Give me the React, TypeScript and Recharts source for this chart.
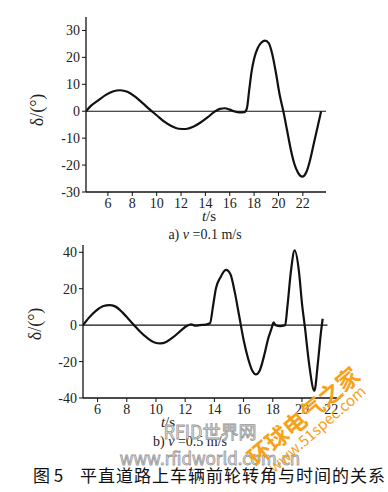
import React from 'react';
import { Line, LineChart, ReferenceLine, XAxis, YAxis } from 'recharts';

// a) v = 0.1 m/s
const timeA = [4.2, 4.6, 5.2, 5.8, 6.4, 7.0, 7.6, 8.2, 8.8, 9.4, 10.0, 10.6, 11.2, 11.8, 12.4, 13.0, 13.6, 14.2, 14.8, 15.2, 15.6, 16.0, 16.4, 16.8, 17.2, 17.4, 17.6, 17.8, 18.0, 18.3, 18.6, 18.9, 19.2, 19.5, 19.8, 20.1, 20.4, 20.7, 21.0, 21.3, 21.6, 21.95, 22.3, 22.6, 22.9, 23.2, 23.5];
const deltaA = [0, 2, 4, 6, 7.3, 7.8, 7.2, 5.5, 3.2, 0.8, -1.5, -3.8, -5.5, -6.5, -6.6, -5.8, -4.2, -2.2, 0, 0.9, 1.1, 0.6, -0.1, -0.4, -0.3, 1, 8, 15, 19.5, 23.5, 25.5, 26.2, 25.3, 21, 14, 6, 0, -7, -14, -19.5, -22.8, -24.3, -22.5, -18, -12, -6, 0];

// b) v = 0.5 m/s
const timeB = [5.0, 5.4, 5.9, 6.4, 6.8, 7.2, 7.7, 8.1, 8.5, 8.9, 9.4, 9.9, 10.3, 10.7, 11.2, 11.7, 12.1, 12.4, 12.7, 13.0, 13.4, 13.7, 13.9, 14.1, 14.4, 14.8, 15.1, 15.4, 15.7, 16.0, 16.3, 16.6, 16.85, 17.1, 17.4, 17.7, 17.95, 18.05, 18.2, 18.5, 18.85, 19.0, 19.25, 19.5, 19.8, 20.0, 20.2, 20.5, 20.85, 21.1, 21.3, 21.42];
const deltaB = [0, 4, 8, 10.5, 11, 10.3, 7, 3.5, 0, -3.5, -7, -9.5, -10, -9.2, -6.5, -3, -0.5, 0.5, -0.3, 0, 0.3, 1, 10, 20, 26, 30.3, 28, 18, 5, -8, -18, -25, -27, -25, -17, -7, -1, 1.5, 0, -0.5, 0, 10, 30, 41, 29, 12, -1, -22, -36, -20, -4, 3.5];

const xTicks = [6, 8, 10, 12, 14, 16, 18, 20, 22];
const yTicksA = [-30, -20, -10, 0, 10, 20, 30];
const yTicksB = [-40, -20, 0, 20, 40];

const seriesA = timeA.map((t, i) => ({ t, delta: deltaA[i] }));
const seriesB = timeB.map((t, i) => ({ t, delta: deltaB[i] }));

const serif = '"Liberation Serif", "DejaVu Serif", serif';
const cjk = '"Noto Sans CJK SC", "Noto Sans CJK JP", sans-serif';
const tickStyle = { fontFamily: serif, fontSize: 14, fill: '#222' };

const App: React.FC = () => {
  return (
    <div style={{ position: 'absolute', left: 0, top: 0, width: 388, height: 492, background: '#fff', overflow: 'hidden' }}>
      <div style={{ position: 'absolute', left: 0, top: 0 }}>
        <LineChart width={388} height={240} data={seriesA} margin={{ top: 17, right: 62, left: 46, bottom: 28 }}>
          <XAxis
            dataKey="t"
            type="number"
            domain={[4.2, 23.9]}
            ticks={xTicks}
            tick={tickStyle}
            tickSize={4}
            axisLine={{ stroke: '#111', strokeWidth: 1.3 }}
            tickLine={{ stroke: '#111' }}
            height={20}
            allowDataOverflow
          />
          <YAxis
            type="number"
            domain={[-30, 35]}
            ticks={yTicksA}
            tick={tickStyle}
            tickSize={4}
            axisLine={{ stroke: '#111', strokeWidth: 1.3 }}
            tickLine={{ stroke: '#111' }}
            width={40}
            allowDataOverflow
          />
          <ReferenceLine y={0} stroke="#111" strokeWidth={1.2} />
          <Line dataKey="delta" type="monotone" stroke="#111" strokeWidth={2.2} dot={false} isAnimationActive={false} />
        </LineChart>
      </div>

      <div style={{ position: 'absolute', left: 0, top: 230 }}>
        <LineChart width={388} height={200} data={seriesB} margin={{ top: 15, right: 51, left: 43, bottom: 12 }}>
          <XAxis
            dataKey="t"
            type="number"
            domain={[5, 22.4]}
            ticks={xTicks}
            tick={tickStyle}
            tickSize={4}
            axisLine={{ stroke: '#111', strokeWidth: 1.3 }}
            tickLine={{ stroke: '#111' }}
            height={20}
            allowDataOverflow
          />
          <YAxis
            type="number"
            domain={[-40, 44]}
            ticks={yTicksB}
            tick={tickStyle}
            tickSize={4}
            axisLine={{ stroke: '#111', strokeWidth: 1.3 }}
            tickLine={{ stroke: '#111' }}
            width={40}
            allowDataOverflow
          />
          <ReferenceLine segment={[{ x: 5, y: 0 }, { x: 21.75, y: 0 }]} stroke="#111" strokeWidth={1.2} />
          <Line dataKey="delta" type="monotone" stroke="#111" strokeWidth={2.2} dot={false} isAnimationActive={false} />
        </LineChart>
      </div>

      <svg width={388} height={492} style={{ position: 'absolute', left: 0, top: 0, pointerEvents: 'none' }}>
        <text x={39} y={110} transform="rotate(-90 39 110)" textAnchor="middle" dominantBaseline="middle" fontFamily={serif} fontSize={18} fill="#222">δ/(°)</text>
        <text x={37} y={324} transform="rotate(-90 37 324)" textAnchor="middle" dominantBaseline="middle" fontFamily={serif} fontSize={18} fill="#222">δ/(°)</text>

        <text x={209} y={218} textAnchor="middle" dominantBaseline="middle" fontFamily={serif} fontSize={15} fill="#222">
          <tspan fontStyle="italic">t</tspan>/s
        </text>
        <text x={205} y={236} textAnchor="middle" dominantBaseline="middle" fontFamily={serif} fontSize={14} fill="#222">
          a)  <tspan fontStyle="italic">v</tspan> =0.1  m/s
        </text>

        <text x={168} y={424} textAnchor="middle" dominantBaseline="middle" fontFamily={serif} fontSize={15} fill="#222">
          <tspan fontStyle="italic">t</tspan>/s
        </text>
        <text x={190} y={443} textAnchor="middle" dominantBaseline="middle" fontFamily={serif} fontSize={14} fill="#222">
          b)  <tspan fontStyle="italic">v</tspan> =0.5  m/s
        </text>

        {/* watermarks */}
        <text x={210} y={434} textAnchor="middle" dominantBaseline="middle" fontFamily={cjk} fontSize={18} fill="#e8e8e8" stroke="#9a9a9a" strokeWidth={0.8}>RFID世界网</text>
        <text x={210} y={460} textAnchor="middle" dominantBaseline="middle" fontFamily={cjk} fontSize={17} fill="#e8e8e8" stroke="#9a9a9a" strokeWidth={0.8}>www.rfidworld.com.cn</text>
        <text x={305} y={418} transform="rotate(-40 305 418)" textAnchor="middle" dominantBaseline="middle" fontFamily={cjk} fontSize={23} fontWeight={700} fill="#f7a21b">环球电气之家</text>
        <text x={318} y={430} transform="rotate(-41 318 430)" textAnchor="middle" dominantBaseline="middle" fontFamily={cjk} fontSize={15} fill="#f7a21b">www.51spec.com</text>

        <text x={33} y={477} dominantBaseline="middle" fontFamily={cjk} fontSize={17} fill="#111">图 5</text>
        <text x={80} y={477} dominantBaseline="middle" fontFamily={cjk} fontSize={17} letterSpacing={1} fill="#111">平直道路上车辆前轮转角与时间的关系</text>
      </svg>
    </div>
  );
};

export default App;
